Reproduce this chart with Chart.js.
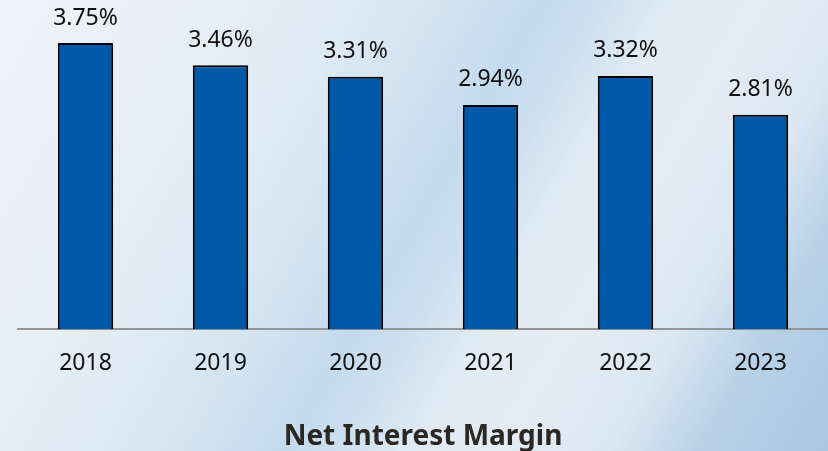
<!DOCTYPE html>
<html>
<head>
<meta charset="utf-8">
<script src="https://cdn.jsdelivr.net/npm/chart.js@4/dist/chart.umd.min.js"></script>
<style>
  html, body { margin:0; padding:0; }
  #wrap {
    width:828px; height:451px; position:relative; overflow:hidden;
    background:
      linear-gradient(120deg,
        #eef3f8 0%, #e6eef6 22%, #dde9f3 34%, #d2e3f1 42%,
        #c4daee 50%, #cfe1f0 56%, #e1ebf4 62%, #e4ecf4 70%,
        #dbe7f2 80%, #b9d2e8 88%, #a8c7e2 100%);
  }
</style>
</head>
<body>
<div id="wrap"><canvas id="nim"></canvas></div>
<script>
const years = ['2018','2019','2020','2021','2022','2023'];
const nimValues = [3.75, 3.46, 3.31, 2.94, 3.32, 2.81];
const chartTitle = 'Net Interest Margin';

// value labels above bars
const barLabels = {
  id:'barLabels',
  afterDatasetsDraw(chart){
    const ctx = chart.ctx;
    const meta = chart.getDatasetMeta(0);
    ctx.save();
    ctx.font = '23px "Noto Sans"';
    ctx.fillStyle = '#111';
    ctx.textAlign = 'center';
    ctx.textBaseline = 'middle';
    meta.data.forEach((bar,i)=>{
      ctx.fillText(nimValues[i].toFixed(2)+'%', bar.x, bar.y-25);
    });
    ctx.restore();
  }
};

new Chart(document.getElementById('nim'),{
  type:'bar',
  data:{
    labels:years,
    datasets:[{
      data:nimValues,
      backgroundColor:'#0059a8',
      borderColor:'#000',
      borderWidth:2,
      barPercentage:0.41,
      categoryPercentage:1
    }]
  },
  options:{
    responsive:true,
    maintainAspectRatio:false,
    animation:false,
    layout:{ padding:{ left:18, right:0, top:24, bottom:0 } },
    plugins:{
      legend:{ display:false },
      tooltip:{ enabled:false },
      title:{
        display:true,
        position:'bottom',
        text:chartTitle,
        color:'#2b2823',
        font:{ family:'"Noto Sans"', size:28, weight:'bold', lineHeight:1 },
        padding:{ top:26, bottom:0 }
      }
    },
    scales:{
      x:{
        grid:{ display:false, drawTicks:false },
        border:{ display:true, color:'#959595', width:2 },
        ticks:{ color:'#111', padding:20, font:{ family:'"Noto Sans"', size:23 } }
      },
      y:{
        display:false,
        min:0,
        max:4
      }
    }
  },
  plugins:[barLabels]
});
</script>
</body>
</html>
